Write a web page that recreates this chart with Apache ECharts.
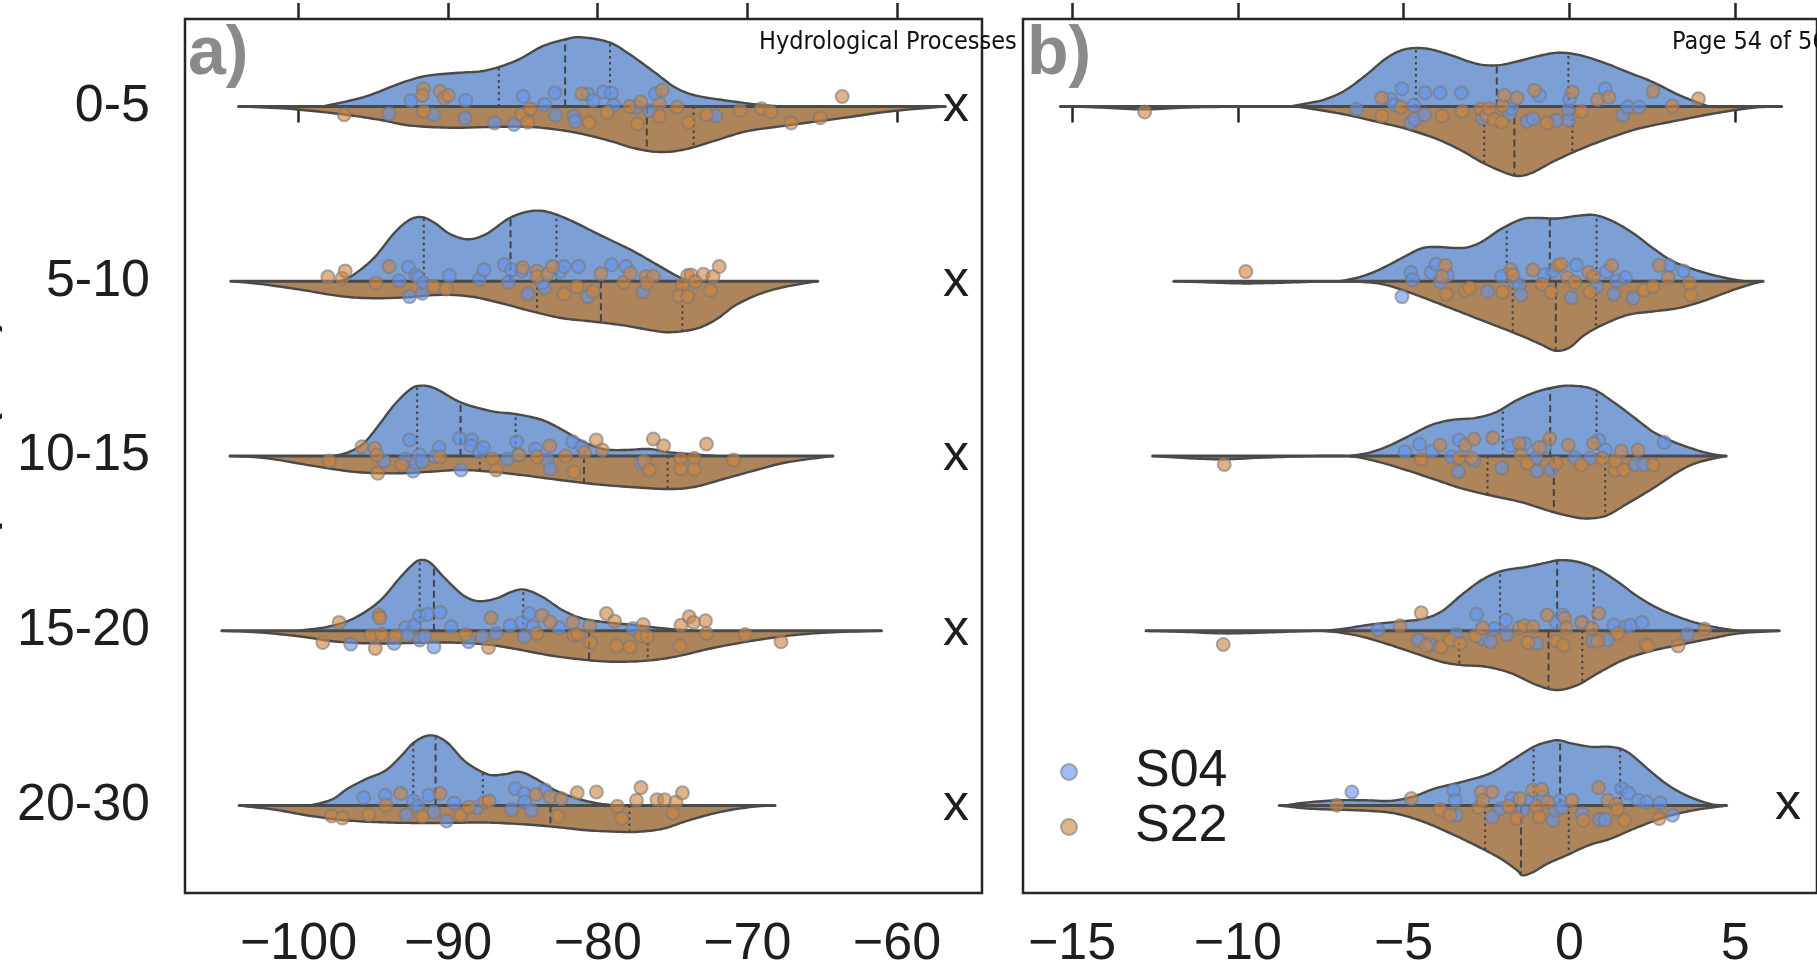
<!DOCTYPE html>
<html><head><meta charset="utf-8">
<script src="https://cdn.jsdelivr.net/npm/echarts@6/dist/echarts.min.js"></script>
<style>html,body{margin:0;padding:0;background:#fff;overflow:hidden}#c{width:1817px;height:971px}</style>
</head><body><div id="c"></div><script>
// ---------------- DATA ----------------
const depthCategories = ['0-5','5-10','10-15','15-20','20-30'];
const groupNames = ['S04','S22'];
const ticksA = [-100,-90,-80,-70,-60];
const ticksB = [-15,-10,-5,0,5];

// violin half profiles: [value, half-width as fraction of a row]
const profileA_S04 = [
 [[-98.38,0],[-95.65,.053],[-93.27,.130],[-91.56,.173],[-89.51,.191],[-87.47,.206],[-85.42,.263],[-83.72,.343],[-82.18,.383],[-81.16,.396],[-79.28,.368],[-77.92,.301],[-76.21,.196],[-74.85,.110],[-73.48,.063],[-71.44,.034],[-69.39,.011],[-67.86,0]],
 [[-97.19,0],[-96.34,.036],[-94.97,.132],[-93.61,.275],[-92.58,.351],[-91.73,.366],[-90.88,.332],[-89.86,.269],[-88.66,.240],[-87.47,.269],[-86.10,.351],[-85.08,.389],[-84.06,.404],[-83.03,.389],[-81.67,.342],[-80.31,.284],[-78.94,.227],[-77.58,.170],[-76.21,.103],[-74.85,.036],[-73.99,0]],
 [[-97.70,0],[-96.68,.021],[-95.65,.073],[-94.63,.177],[-93.61,.292],[-92.58,.378],[-91.90,.402],[-90.88,.387],[-89.17,.307],[-87.13,.257],[-85.42,.239],[-83.72,.206],[-82.35,.149],[-80.99,.082],[-79.62,.040],[-78.26,.034],[-76.55,.040],[-75.19,.021],[-72.12,0]],
 [[-100.09,0],[-98.04,.023],[-96.34,.070],[-94.63,.166],[-93.27,.299],[-92.41,.376],[-91.90,.404],[-91.22,.391],[-90.20,.299],[-89.00,.204],[-87.98,.170],[-86.79,.185],[-85.76,.223],[-84.91,.236],[-83.72,.195],[-82.35,.118],[-80.99,.070],[-79.28,.047],[-77.58,.033],[-75.53,.013],[-73.48,0]],
 [[-99.28,0],[-97.79,.034],[-96.72,.097],[-95.44,.154],[-94.16,.202],[-93.10,.288],[-92.24,.364],[-91.18,.402],[-90.11,.364],[-88.83,.250],[-87.34,.179],[-86.27,.179],[-85.21,.193],[-84.14,.154],[-82.86,.088],[-81.37,.040],[-79.88,.011],[-78.60,0]]
];
const profileA_S22 = [
 [[-104.01,0],[-100.77,.013],[-97.36,.042],[-94.63,.076],[-92.58,.109],[-89.85,.122],[-87.13,.118],[-84.40,.118],[-81.67,.147],[-79.28,.195],[-77.58,.239],[-75.87,.261],[-74.17,.246],[-72.12,.195],[-70.07,.143],[-67.35,.109],[-63.93,.070],[-60.52,.029],[-56.77,0]],
 [[-104.52,0],[-102.47,.017],[-99.75,.050],[-97.36,.084],[-95.31,.097],[-92.92,.093],[-90.54,.078],[-88.49,.088],[-86.44,.126],[-84.40,.173],[-82.35,.212],[-80.31,.231],[-78.26,.253],[-76.55,.279],[-75.19,.292],[-73.48,.273],[-72.12,.221],[-70.76,.136],[-69.05,.069],[-67.35,.030],[-65.30,0]],
 [[-104.59,0],[-102.13,.013],[-98.72,.061],[-95.99,.093],[-93.27,.099],[-91.22,.090],[-89.17,.080],[-87.13,.090],[-85.08,.109],[-83.03,.132],[-80.31,.160],[-77.58,.179],[-75.19,.189],[-73.48,.176],[-71.44,.128],[-69.39,.080],[-67.35,.036],[-64.28,0]],
 [[-105.13,0],[-102.47,.010],[-99.75,.034],[-97.36,.063],[-94.63,.073],[-92.24,.069],[-89.86,.067],[-87.47,.078],[-85.42,.105],[-83.03,.143],[-80.65,.168],[-78.94,.177],[-76.89,.172],[-74.85,.149],[-72.46,.101],[-70.07,.063],[-67.35,.029],[-64.62,.010],[-61.04,0]],
 [[-103.97,0],[-101.62,.023],[-99.49,.055],[-97.36,.080],[-95.23,.093],[-92.67,.099],[-90.11,.099],[-87.55,.097],[-84.96,.107],[-82.86,.122],[-80.73,.141],[-78.60,.150],[-77.32,.150],[-75.62,.132],[-73.91,.084],[-71.78,.036],[-69.65,.007],[-68.15,0]]
];
const profileB_S04 = [
 [[-8.43,0],[-7.98,.015],[-7.37,.040],[-6.76,.092],[-6.15,.177],[-5.54,.273],[-5.08,.320],[-4.63,.334],[-4.17,.326],[-3.56,.292],[-2.80,.244],[-2.19,.235],[-1.58,.257],[-0.98,.286],[-0.37,.307],[0.24,.296],[1.00,.253],[1.76,.196],[2.52,.139],[3.28,.067],[3.89,.021],[4.20,0]],
 [[-6.91,0],[-6.30,.025],[-5.70,.069],[-5.08,.130],[-4.47,.187],[-4.02,.196],[-3.56,.191],[-3.11,.193],[-2.65,.225],[-2.04,.301],[-1.43,.355],[-0.98,.362],[-0.37,.359],[0.24,.374],[0.77,.378],[1.31,.343],[1.92,.275],[2.52,.189],[3.13,.113],[3.89,.059],[4.65,.021],[5.26,0]],
 [[-6.61,0],[-6.00,.021],[-5.39,.063],[-4.78,.120],[-4.17,.177],[-3.56,.206],[-2.80,.219],[-2.19,.253],[-1.58,.320],[-0.98,.368],[-0.37,.396],[0.09,.402],[0.70,.383],[1.31,.311],[1.92,.225],[2.52,.139],[3.13,.082],[3.74,.040],[4.20,.015],[4.65,0]],
 [[-7.37,0],[-6.76,.013],[-5.99,.036],[-5.24,.051],[-4.47,.067],[-3.87,.109],[-3.26,.204],[-2.65,.290],[-2.04,.342],[-1.28,.366],[-0.67,.391],[-0.29,.404],[0.24,.395],[0.85,.353],[1.46,.280],[2.07,.195],[2.68,.128],[3.28,.080],[3.89,.042],[4.50,.017],[5.11,0]],
 [[-8.56,0],[-8.06,.015],[-7.06,.030],[-6.06,.030],[-5.40,.027],[-4.73,.050],[-4.07,.097],[-3.24,.136],[-2.41,.183],[-1.74,.259],[-1.08,.336],[-0.66,.364],[-0.33,.374],[0.08,.355],[0.67,.336],[1.25,.336],[1.75,.307],[2.41,.202],[2.91,.126],[3.41,.069],[3.90,.030],[4.32,.007],[4.74,0]]
];
const profileB_S22 = [
 [[-15.35,0],[-14.21,.006],[-12.84,.017],[-11.47,.006],[-10.10,.002],[-8.43,.001],[-7.67,.017],[-6.76,.047],[-5.85,.086],[-4.93,.128],[-4.02,.185],[-3.26,.252],[-2.65,.319],[-2.04,.372],[-1.58,.398],[-1.13,.380],[-0.52,.319],[0.24,.252],[1.15,.185],[2.07,.128],[3.28,.080],[4.50,.036],[5.57,.007],[6.40,0]],
 [[-11.93,0],[-10.71,.008],[-9.72,.013],[-8.58,.008],[-7.37,.002],[-6.30,.004],[-5.54,.021],[-4.63,.078],[-3.71,.145],[-2.80,.212],[-1.89,.279],[-1.28,.326],[-0.82,.365],[-0.42,.398],[0.00,.380],[0.44,.310],[1.00,.250],[1.76,.193],[2.52,.173],[3.28,.154],[4.05,.113],[4.81,.059],[5.42,.021],[5.84,0]],
 [[-12.57,0],[-11.47,.013],[-10.41,.019],[-9.35,.010],[-7.97,.002],[-6.68,.001],[-5.85,.029],[-4.93,.080],[-4.02,.137],[-3.26,.185],[-2.35,.227],[-1.43,.265],[-0.52,.319],[0.24,.353],[0.70,.356],[1.15,.338],[1.76,.271],[2.52,.185],[3.28,.090],[3.89,.036],[4.73,0]],
 [[-12.77,0],[-11.63,.006],[-10.41,.015],[-9.19,.010],[-7.98,.002],[-7.37,.001],[-6.45,.025],[-5.54,.073],[-4.63,.130],[-3.87,.177],[-3.26,.196],[-2.50,.206],[-1.74,.244],[-0.98,.311],[-0.37,.339],[0.24,.311],[0.85,.244],[1.61,.168],[2.37,.120],[3.28,.082],[4.20,.047],[5.11,.015],[6.33,0]],
 [[-8.75,0],[-7.89,.017],[-7.06,.023],[-6.06,.030],[-5.23,.046],[-4.40,.093],[-3.57,.160],[-2.74,.236],[-2.08,.303],[-1.58,.370],[-1.41,.399],[-1.08,.379],[-0.66,.332],[-0.08,.284],[0.58,.227],[1.25,.189],[2.08,.122],[2.91,.065],[3.74,.027],[4.74,0]]
];

// quartile lines per row: [q1, median, q3] (null = not drawn)
const quartA_S04 = [[-86.61,-82.18,-79.18],[-91.63,-85.83,-82.76],[-92.07,-89.17,-85.49],[-91.90,-90.95,-84.98],[-92.33,-90.84,-87.68]];
const quartA_S22 = [[null,-76.72,-73.59],[-84.06,-79.79,-74.34],[-87.88,-80.92,-75.33],[null,-80.58,-76.66],[null,-83.16,-77.88]];
const quartB_S04 = [[-4.63,-2.19,-0.03],[-1.89,-0.59,0.82],[-2.01,-0.58,0.82],[-2.09,-0.37,0.73],[-1.08,-0.28,1.53]];
const quartB_S22 = [[-2.57,-1.66,0.09],[-1.71,-0.41,0.80],[-2.47,-0.47,1.08],[-3.32,-0.63,0.39],[-2.54,-1.46,-0.02]];

// jittered observations per row: [value, jitter (fraction of row)]
const pointsA_S04 = [
 [[-93.95,.042],[-92.48,-.034],[-90.98,.048],[-88.83,-.034],[-88.87,.067],[-86.89,.095],[-85.59,.103],[-84.98,-.057],[-83.55,-.011],[-82.86,-.078],[-82.83,.051],[-81.60,.057],[-81.50,.086],[-80.65,-.069],[-80.31,-.034],[-79.62,-.082],[-79.08,-.076],[-78.94,-.006],[-77.41,.004],[-76.55,.023],[-76.14,-.072],[-72.12,.055]],
 [[-93.27,-.002],[-92.65,-.080],[-92.58,.088],[-92.17,-.036],[-91.97,-.021],[-91.73,.069],[-91.63,.011],[-89.92,-.032],[-87.91,-.011],[-87.60,-.065],[-86.24,-.094],[-85.97,.006],[-85.76,-.065],[-85.08,-.059],[-84.67,.072],[-83.55,.040],[-83.72,.011],[-82.52,-.055],[-82.25,-.084],[-81.29,-.084],[-80.65,.088],[-79.08,-.094],[-78.12,-.084],[-76.96,.059]],
 [[-94.29,.029],[-92.86,.017],[-92.58,-.092],[-92.34,.086],[-92.17,.036],[-91.90,-.006],[-91.73,.032],[-90.88,.004],[-90.60,-.048],[-89.24,-.101],[-89.14,.080],[-88.42,-.092],[-88.49,-.059],[-87.88,-.025],[-87.64,-.048],[-86.03,.017],[-85.42,-.082],[-85.35,-.006],[-84.16,-.040],[-83.37,.023],[-83.17,.074],[-81.67,-.082],[-81.06,-.053],[-77.10,.042]],
 [[-96.51,.076],[-93.61,.072],[-92.86,-.017],[-92.69,.025],[-92.24,-.032],[-91.90,-.086],[-91.90,.053],[-91.56,.034],[-91.39,-.094],[-90.95,.092],[-90.54,-.105],[-89.79,-.023],[-88.63,.063],[-87.71,.034],[-86.79,.015],[-85.86,-.029],[-85.08,-.048],[-84.91,.034],[-84.57,-.099],[-84.33,-.023],[-82.59,-.017],[-77.65,-.013]],
 [[-95.65,-.046],[-94.20,-.059],[-92.80,.052],[-92.33,-.027],[-92.03,.004],[-91.30,-.059],[-90.96,.036],[-90.11,.088],[-89.60,-.015],[-88.07,.011],[-85.76,.023],[-85.51,-.097],[-84.91,-.069],[-84.89,-.021],[-84.44,.027],[-83.50,-.088]]
];
const pointsA_S22 = [
 [[-96.95,.048],[-91.66,-.101],[-91.73,-.063],[-91.63,.029],[-90.54,-.086],[-90.26,-.048],[-89.99,-.063],[-85.08,.048],[-84.67,.090],[-84.50,.013],[-81.06,-.072],[-80.58,.093],[-79.38,.036],[-77.85,0],[-77.34,.101],[-77.13,-.025],[-75.87,-.015],[-75.70,-.092],[-75.87,.057],[-74.68,.004],[-73.93,.090],[-72.73,.048],[-70.48,.023],[-69.05,.013],[-68.43,.032],[-67.07,.095],[-65.13,.065],[-63.66,-.057]],
 [[-98.04,-.025],[-97.09,-.017],[-96.88,-.059],[-94.83,.011],[-93.95,-.084],[-90.98,.030],[-90.13,.044],[-85.01,-.078],[-84.06,-.059],[-84.06,-.027],[-83.37,-.040],[-83.03,-.084],[-82.25,.072],[-81.40,.031],[-80.31,.059],[-79.79,-.042],[-78.26,.006],[-77.82,-.046],[-76.79,-.027],[-76.72,.013],[-76.28,-.027],[-74.34,.021],[-74.58,.084],[-73.99,.088],[-73.99,-.032],[-73.76,-.036],[-73.48,.002],[-72.94,-.040],[-72.46,.053],[-72.29,-.027],[-71.88,-.084]],
 [[-97.94,.029],[-95.76,-.053],[-94.90,-.044],[-94.77,-.006],[-94.70,.099],[-93.09,.051],[-90.54,.004],[-87.02,.017],[-86.79,.080],[-85.25,-.006],[-84.06,.004],[-83.20,-.059],[-82.15,0],[-81.60,.090],[-80.88,-.021],[-80.10,-.092],[-79.69,-.034],[-76.89,.032],[-76.55,.080],[-76.28,-.097],[-75.60,-.059],[-74.44,.017],[-74.44,.074],[-73.55,.013],[-73.55,.076],[-72.73,-.069],[-70.93,.023]],
 [[-98.38,.067],[-97.29,-.048],[-94.87,.101],[-94.63,-.090],[-94.56,-.074],[-95.14,.025],[-94.46,.021],[-93.54,.029],[-88.83,.021],[-87.30,.095],[-87.13,-.074],[-84.06,.015],[-83.72,-.088],[-83.17,-.051],[-81.67,-.048],[-81.60,.025],[-81.33,.021],[-80.54,-.027],[-80.48,.067],[-79.42,-.099],[-78.87,-.055],[-78.74,.086],[-77.85,.092],[-77.13,.029],[-76.96,-.036],[-76.69,.034],[-74.51,.086],[-74.44,-.032],[-73.89,-.080],[-73.59,-.048],[-72.80,-.057],[-72.73,.015],[-70.14,.021],[-67.75,.063]],
 [[-97.79,.059],[-97.06,.071],[-95.31,.052],[-94.16,-.002],[-93.18,-.069],[-91.73,.061],[-90.54,-.069],[-89.17,.055],[-88.62,.008],[-87.55,-.021],[-87.26,-.027],[-84.14,-.063],[-83.20,-.050],[-82.65,.061],[-82.44,-.040],[-81.37,-.073],[-80.09,-.078],[-78.69,.004],[-78.39,.074],[-77.41,-.031],[-77.11,-.103],[-76.04,-.034],[-75.53,-.034],[-74.77,-.021],[-74.98,.042],[-74.34,-.073]]
];
const pointsB_S04 = [
 [[-6.42,.017],[-5.39,-.040],[-5.27,-.010],[-5.05,-.101],[-4.78,.093],[-4.70,-.006],[-4.66,.074],[-4.37,.048],[-4.35,-.078],[-3.90,-.078],[-3.26,-.078],[-2.62,.067],[-1.81,.042],[-1.74,.013],[-1.28,.086],[-1.10,.071],[-0.90,-.063],[-0.40,.080],[-0.03,.023],[-0.02,.080],[0.01,-.044],[1.08,-.101],[1.61,.051],[1.76,.004],[2.10,.004]],
 [[-5.05,.088],[-4.78,-.051],[-4.73,-.008],[-4.17,-.051],[-4.02,-.097],[-3.68,-.036],[-3.90,.006],[-2.47,.059],[-2.04,-.027],[-1.66,.006],[-1.51,.021],[-1.46,.078],[-0.75,-.036],[-0.49,-.059],[0.06,.093],[0.21,-.093],[0.82,.031],[1.12,-.055],[1.34,.074],[1.43,-.002],[1.69,-.021],[1.92,.097],[3.01,-.090],[3.44,-.059]],
 [[-4.96,-.025],[-4.52,-.067],[-4.14,-.029],[-3.56,.004],[-3.33,-.092],[-3.35,.090],[-2.88,.029],[-2.04,.067],[-1.79,-.059],[-1.34,-.072],[-1.01,.010],[-0.98,.086],[-0.75,-.053],[-0.55,.080],[0.17,.010],[0.62,.013],[0.88,-.092],[1.08,-.034],[1.99,.048],[2.25,.051],[2.86,-.078]],
 [[-5.77,-.004],[-4.55,.053],[-4.20,.078],[-3.41,.021],[-2.80,-.094],[-2.65,.044],[-2.38,.063],[-2.27,-.013],[-1.92,-.061],[-1.89,.021],[-0.98,.072],[-0.40,-.048],[-0.21,-.090],[0.39,-.048],[0.70,.059],[1.15,.053],[1.34,-.032],[1.69,-.023],[1.84,-.032],[2.19,-.048],[3.56,.021]],
 [[-6.56,-.078],[-3.49,-.088],[-3.44,-.031],[-3.41,.055],[-2.33,.065],[-2.08,.017],[-1.74,-.040],[-1.41,.027],[-1.16,-.034],[-0.78,-.050],[-0.50,.084],[-0.42,.027],[-0.28,-.031],[-0.22,.011],[0.38,.046],[0.91,.080],[1.08,.080],[1.58,-.097],[1.78,-.072],[2.08,-.031],[2.33,-.021],[2.74,-.015],[3.11,.055]]
];
const pointsB_S22 = [
 [[-12.81,.032],[-5.66,-.048],[-5.66,.055],[-5.08,.004],[-3.84,.055],[-3.23,.029],[-2.68,.013],[-2.50,.051],[-2.42,.013],[-2.27,.074],[-2.04,.090],[-2.01,-.006],[-1.96,-.063],[-1.58,-.048],[-1.05,-.092],[-0.67,.095],[0.09,-.082],[0.36,.029],[0.85,-.040],[1.19,-.053],[2.52,-.086],[3.10,-.002],[3.89,-.044]],
 [[-9.76,-.055],[-3.74,-.090],[-3.84,-.027],[-3.71,.074],[-3.14,.055],[-3.01,.040],[-2.01,.063],[-1.77,-.065],[-1.71,-.036],[-1.10,-.065],[-0.82,.017],[-0.55,.063],[-0.34,-.090],[-0.25,-.097],[-0.06,-.021],[0.17,.006],[0.58,-.051],[0.62,.063],[0.73,-.027],[1.28,-.090],[2.25,.050],[2.52,.031],[2.71,-.090],[2.98,-.021],[3.62,.011],[3.67,.078]],
 [[-10.41,.048],[-4.47,.019],[-3.90,-.063],[-3.32,.010],[-3.14,-.063],[-2.95,.013],[-2.88,-.097],[-2.31,-.105],[-1.51,-.072],[-1.46,-.006],[-1.28,.042],[-0.90,-.048],[-0.59,-.101],[-0.40,.042],[-0.03,-.063],[0.36,.051],[0.73,-.072],[1.00,.013],[1.38,.080],[1.38,.029],[1.57,-.029],[1.64,.080],[2.07,-.034],[2.52,.051]],
 [[-10.44,.078],[-5.11,-.029],[-4.47,-.103],[-4.32,.086],[-3.87,.092],[-3.59,.053],[-3.29,.072],[-2.83,.029],[-2.62,-.017],[-1.51,-.017],[-1.36,-.029],[-1.25,.067],[-1.10,-.023],[-0.67,-.090],[-0.40,.059],[-0.14,-.072],[-0.18,.082],[-0.09,-.017],[0.36,-.048],[0.67,-.017],[0.85,.059],[0.88,-.099],[1.46,.015],[2.30,.078],[2.37,.086],[3.28,.086],[4.08,-.010]],
 [[-7.01,-.002],[-4.77,-.040],[-3.90,.023],[-3.60,.055],[-2.74,.011],[-2.66,-.078],[-2.61,-.031],[-2.33,-.078],[-1.83,.004],[-1.58,.074],[-1.49,-.040],[-1.11,-.088],[-1.00,.004],[-0.91,.065],[-0.83,-.092],[-0.66,-.021],[0.08,-.031],[0.42,.084],[0.88,-.103],[1.16,-.031],[1.41,-.008],[1.45,.023],[1.66,.084],[2.71,.074]]
];

// ---------------- STYLE ----------------
const FONT = "'Liberation Sans', Arial, Helvetica, sans-serif";
const INK = '#262626';
const EDGE = '#4a4a4a';
const FILL = ['#7c9fd6', '#ae845b'];
const DOT = ['rgb(100,149,237)', 'rgb(205,133,63)'];

function fmtMinus(v){ return String(v).replace('-', '\u2212'); }

function sampleCurve(p, base, sign, n){
  const out = [];
  for (let i = 0; i < p.length - 1; i++){
    const p0 = p[Math.max(i-1,0)], p1 = p[i], p2 = p[i+1], p3 = p[Math.min(i+2,p.length-1)];
    for (let s = 0; s < n; s++){
      const t = s/n, t2 = t*t, t3 = t2*t;
      const f = k => 0.5*((2*p1[k]) + (-p0[k]+p2[k])*t + (2*p0[k]-5*p1[k]+4*p2[k]-p3[k])*t2 + (-p0[k]+3*p1[k]-3*p2[k]+p3[k])*t3);
      let y = f(1);
      y = sign < 0 ? Math.min(y, base) : Math.max(y, base);
      out.push([f(0), y]);
    }
  }
  out.push(p[p.length-1]);
  return out;
}
function widthAt(prof, v){
  for (let i = 0; i < prof.length-1; i++){
    if (v >= prof[i][0] && v <= prof[i+1][0]){
      const t = (v-prof[i][0])/(prof[i+1][0]-prof[i][0]);
      return prof[i][1] + t*(prof[i+1][1]-prof[i][1]);
    }
  }
  return 0;
}

function violinSeries(g, profiles, quarts, sign, fill){
  return {
    type: 'custom', xAxisIndex: g, yAxisIndex: 3+g, silent: true, z: 2,
    data: profiles.map((p,row) => [p[0][0], row]),
    encode: {x: 0, y: 1},
    renderItem: function(params, api){
      const row = api.value(1);
      const prof = profiles[row];
      const base = api.coord([prof[0][0], row])[1];
      const pix = prof.map(d => api.coord([d[0], row + sign*d[1]]));
      const curve = sampleCurve(pix, base, sign, 10);
      const children = [
        {type:'polygon', shape:{points: curve}, style:{fill: fill, stroke: null}},
        {type:'polyline', shape:{points: curve}, style:{fill:'none', stroke: EDGE, lineWidth: 2.4, lineJoin:'round'}}
      ];
      quarts[row].forEach((q,k) => {
        if (q == null) return;
        const w = widthAt(prof, q);
        const a = api.coord([q, row]), b = api.coord([q, row + sign*w]);
        children.push({type:'line', shape:{x1:a[0], y1:a[1], x2:b[0], y2:b[1]},
          style:{stroke:'#444', lineWidth: 2, lineDash: k === 1 ? [7,4] : [2.5,3.5], fill:'none'}});
      });
      return {type:'group', children};
    }
  };
}
function centerSeries(g, pa, pb){
  return {
    type:'custom', xAxisIndex: g, yAxisIndex: 3+g, silent: true, z: 3,
    data: pa.map((p,row) => [Math.min(p[0][0], pb[row][0][0]), row, Math.max(p[p.length-1][0], pb[row][pb[row].length-1][0])]),
    encode: {x: [0,2], y: 1},
    renderItem: function(params, api){
      const a = api.coord([api.value(0), api.value(1)]), b = api.coord([api.value(2), api.value(1)]);
      return {type:'line', shape:{x1:a[0], y1:a[1], x2:b[0], y2:b[1]}, style:{stroke: EDGE, lineWidth: 3, lineCap:'round', fill:'none'}};
    }
  };
}
function pointSeries(name, g, rows, color){
  const data = [];
  rows.forEach((r,row) => r.forEach(d => data.push([d[0], row + d[1]])));
  return {
    name, type:'scatter', xAxisIndex: g, yAxisIndex: 3+g, silent: true, z: 4,
    symbol:'circle', symbolSize: 13, data,
    itemStyle: {color: color, borderColor: '#7a7a7a', borderWidth: 2, opacity: 0.62}
  };
}

const tickStyle = {length: 16, lineStyle: {color: INK, width: 2.5}};
function xAxisDef(g, min, max, ticks, pos){
  return {
    gridIndex: g, type: 'value', min, max, position: pos,
    axisLine: {show: false}, splitLine: {show: false},
    axisTick: Object.assign({show: true, inside: false, customValues: ticks}, tickStyle),
    axisLabel: pos === 'bottom'
      ? {show: true, customValues: ticks, formatter: fmtMinus, fontSize: 52, color: '#1e1e1e', fontFamily: FONT, margin: 26}
      : {show: false}
  };
}
const gridW = 797, gridH = 874;
const aMin = -107.59, aMax = aMin + gridW/14.96;
const bMin = -16.48, bMax = bMin + gridW/33.28;

const option = {
  animation: false,
  backgroundColor: '#ffffff',
  grid: [
    {left: 185, top: 19, width: gridW, height: gridH, show: true, borderColor: INK, borderWidth: 2.5, backgroundColor: 'transparent'},
    {left: 1023, top: 19, width: gridW, height: gridH, show: true, borderColor: INK, borderWidth: 2.5, backgroundColor: 'transparent'}
  ],
  xAxis: [
    xAxisDef(0, aMin, aMax, ticksA, 'bottom'),
    xAxisDef(1, bMin, bMax, ticksB, 'bottom'),
    xAxisDef(0, aMin, aMax, ticksA, 'top'),
    xAxisDef(1, bMin, bMax, ticksB, 'top')
  ],
  yAxis: [
    {gridIndex: 0, type:'category', data: depthCategories, inverse: true, position:'left',
     axisLine:{show:false}, axisTick: Object.assign({alignWithLabel:true}, tickStyle),
     axisLabel:{fontSize: 52, color:'#1e1e1e', fontFamily: FONT, margin: 35}},
    {gridIndex: 1, type:'category', data: depthCategories, inverse: true, position:'left',
     axisLine:{show:false}, axisTick: Object.assign({alignWithLabel:true}, tickStyle),
     axisLabel:{fontSize: 52, color:'#1e1e1e', fontFamily: FONT, margin: 54, formatter: () => 'x'}},
    {gridIndex: 0, type:'category', data: depthCategories, inverse: true, position:'right',
     axisLine:{show:false}, axisTick: Object.assign({alignWithLabel:true}, tickStyle), axisLabel:{show:false}},
    {gridIndex: 0, type:'value', min:-0.5, max:4.5, inverse:true, show:false},
    {gridIndex: 1, type:'value', min:-0.5, max:4.5, inverse:true, show:false}
  ],
  legend: {
    data: groupNames, orient:'vertical', left: 1060, top: 746, padding: 0,
    icon:'circle', itemWidth: 122, itemHeight: 16, itemGap: 3, selectedMode: false,
    textStyle: {fontSize: 52, color:'#1e1e1e', fontFamily: FONT}
  },
  graphic: [
    {type:'text', x: 3, y: 461, rotation: Math.PI/2, style:{text:'Depth (cm)', fontSize: 60, fontFamily: FONT, fill:'#1e1e1e', align:'center', verticalAlign:'bottom'}},
    {type:'text', x: 188, y: 21, style:{text:'a)', fontSize: 68, fontWeight:'bold', fontFamily: FONT, fill:'#8a8a8a', verticalAlign:'top'}},
    {type:'text', x: 1027, y: 21, style:{text:'b)', fontSize: 68, fontWeight:'bold', fontFamily: FONT, fill:'#8a8a8a', verticalAlign:'top'}},
    {type:'text', x: 759, y: 42, style:{text:'Hydrological Processes', fontSize: 25, fontFamily:"'Liberation Sans Narrow','DejaVu Sans Condensed', sans-serif", fill:'#111', verticalAlign:'middle'}},
    {type:'text', x: 1672, y: 42, style:{text:'Page 54 of 56', fontSize: 25, fontFamily:"'Liberation Sans Narrow','DejaVu Sans Condensed', sans-serif", fill:'#111', verticalAlign:'middle'}},
    {type:'text', x: 1788, y: 805, style:{text:'x', fontSize: 52, fontFamily: FONT, fill:'#1e1e1e', align:'center', verticalAlign:'middle'}}
  ],
  series: [
    violinSeries(0, profileA_S04, quartA_S04, -1, FILL[0]),
    violinSeries(0, profileA_S22, quartA_S22, 1, FILL[1]),
    centerSeries(0, profileA_S04, profileA_S22),
    violinSeries(1, profileB_S04, quartB_S04, -1, FILL[0]),
    violinSeries(1, profileB_S22, quartB_S22, 1, FILL[1]),
    centerSeries(1, profileB_S04, profileB_S22),
    pointSeries('S04', 0, pointsA_S04, DOT[0]),
    pointSeries('S22', 0, pointsA_S22, DOT[1]),
    pointSeries('S04', 1, pointsB_S04, DOT[0]),
    pointSeries('S22', 1, pointsB_S22, DOT[1])
  ]
};
const chart = echarts.init(document.getElementById('c'), null, {renderer:'canvas'});
chart.setOption(option);
</script></body></html>
